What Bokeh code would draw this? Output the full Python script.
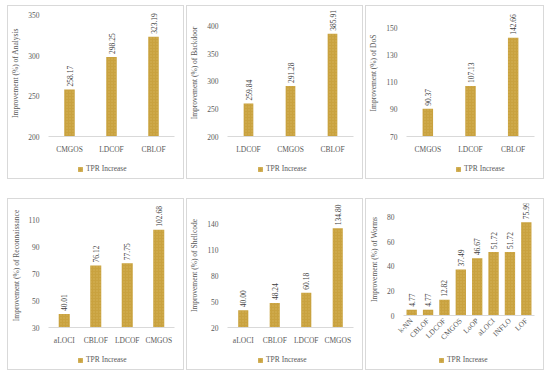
import math
from bokeh.plotting import figure
from bokeh.models import (Range1d, FactorRange, FixedTicker, ColumnDataSource, Legend,
                          LegendItem, Spacer)
from bokeh.layouts import row, column
from bokeh.embed import file_html
from bokeh.resources import INLINE
from bokeh.core.properties import value

# ---- data ----
analysis_methods = ["CMGOS", "LDCOF", "CBLOF"]
analysis_values = [258.17, 298.25, 323.19]
analysis_ticks = [200, 250, 300, 350]

backdoor_methods = ["LDCOF", "CMGOS", "CBLOF"]
backdoor_values = [259.84, 291.28, 385.91]
backdoor_ticks = [200, 250, 300, 350, 400]

dos_methods = ["CMGOS", "LDCOF", "CBLOF"]
dos_values = [90.37, 107.13, 142.66]
dos_ticks = [70, 90, 110, 130, 150]

recon_methods = ["aLOCI", "CBLOF", "LDCOF", "CMGOS"]
recon_values = [40.01, 76.12, 77.75, 102.68]
recon_ticks = [30, 50, 70, 90, 110]

shell_methods = ["aLOCI", "CBLOF", "LDCOF", "CMGOS"]
shell_values = [40.00, 48.24, 60.18, 134.80]
shell_ticks = [20, 50, 80, 110, 140]

worms_methods = ["k-NN", "CBLOF", "LDCOF", "CMGOS", "LoOP", "aLOCI", "INFLO", "LOF"]
worms_values = [4.77, 4.77, 12.82, 37.49, 46.67, 51.72, 51.72, 75.99]
worms_ticks = [0, 20, 40, 60, 80]

series_name = "TPR Increase"

BAR = "#C9A23F"
FONT = "Liberation Serif"
GRAY = "#595959"
BAR_STYLE = dict(fill_color=BAR, line_color=None, hatch_pattern="dot",
                 hatch_color="#E2C77A", hatch_alpha=0.45, hatch_scale=3)


def panel(cats, vals, ticks, ylabel, y_end, bar_w, height, top, bottom,
          leg_x, width=175, rotate=False):
    p = figure(width=width, height=height, x_range=FactorRange(*cats, range_padding=0),
               y_range=Range1d(ticks[0], y_end), output_backend="svg",
               toolbar_location=None, min_border_left=36, min_border_right=9,
               min_border_top=top, min_border_bottom=bottom)
    p.outline_line_color = None
    p.grid.grid_line_color = None
    src = ColumnDataSource(dict(x=cats, y=vals, t=[f"{v:.2f}" for v in vals]))
    p.vbar(x="x", top="y", bottom=ticks[0], width=bar_w, source=src, **BAR_STYLE)
    p.text(x="x", y="y", text="t", source=src, angle=math.pi / 2,
           text_align="left", text_baseline="middle", y_offset=-3,
           text_font=value(FONT), text_font_size="7.5px", text_color="#404040")
    p.yaxis.ticker = FixedTicker(ticks=ticks)
    p.yaxis.axis_line_color = None
    p.yaxis.major_tick_line_color = None
    p.yaxis.minor_tick_line_color = None
    p.yaxis.major_tick_out = 0
    p.yaxis.major_label_standoff = 9
    p.yaxis.axis_label = ylabel
    p.yaxis.axis_label_standoff = 5
    p.yaxis.axis_label_text_font = FONT
    p.yaxis.axis_label_text_font_style = "normal"
    p.yaxis.axis_label_text_font_size = "7.5px"
    p.yaxis.axis_label_text_color = GRAY
    for ax in (p.xaxis, p.yaxis):
        ax.major_label_text_font = FONT
        ax.major_label_text_font_size = "7.5px"
        ax.major_label_text_color = GRAY
    p.xaxis.axis_line_color = "#D9D9D9"
    p.xaxis.major_tick_line_color = None
    p.xaxis.major_tick_out = 0
    p.xaxis.major_label_standoff = 8
    if rotate:
        p.xaxis.major_label_orientation = math.pi / 4
        p.xaxis.major_label_standoff = 4

    # legend strip (separate small figure so the legend is not clipped)
    lf = figure(width=width, height=22, x_range=Range1d(0, 1), y_range=Range1d(0, 1),
                output_backend="svg", toolbar_location=None,
                x_axis_location=None, y_axis_location=None,
                min_border_left=36, min_border_right=9, min_border_top=0, min_border_bottom=0)
    lf.outline_line_color = None
    lf.grid.grid_line_color = None
    # zero-size proxy bar: only supplies the legend swatch
    lr = lf.vbar(x=[0], top=[0], bottom=[0], width=0, **BAR_STYLE)
    leg = Legend(items=[LegendItem(label=series_name, renderers=[lr])],
                 location=(leg_x - 36, 5), orientation="horizontal",
                 border_line_color=None, background_fill_alpha=0,
                 padding=0, margin=0, spacing=0, label_height=8,
                 glyph_width=6, glyph_height=6, label_standoff=3,
                 label_text_font=FONT, label_text_font_size="7.5px",
                 label_text_color=GRAY)
    lf.add_layout(leg)
    box = column(p, lf, spacing=0)
    box.styles = {"border": "1px solid #D9D9D9"}
    return box


p1 = panel(analysis_methods, analysis_values, analysis_ticks,
           "Improvement (%) of Analysis", 356.9, 0.25, 150, 3, 15, 65)
p2 = panel(backdoor_methods, backdoor_values, backdoor_ticks,
           "Improvement (%) of Backdoor", 429.6, 0.23, 150, 3, 15, 66)
p3 = panel(dos_methods, dos_values, dos_ticks,
           "Improvement (%) of DoS", 163.45, 0.245, 150, 3, 15, 85, width=177)
p4 = panel(recon_methods, recon_values, recon_ticks,
           "Improvement (%) of Reconnaissance", 122.1, 0.35, 148, 4, 15, 65)
p5 = panel(shell_methods, shell_values, shell_ticks,
           "Improvement (%) of Shellcode", 163.3, 0.32, 148, 4, 15, 66)
p6 = panel(worms_methods, worms_values, worms_ticks,
           "Improvement (%) of Worms", 91.2, 0.63, 148, 4, 30, 71, width=177, rotate=True)

grid = column(row(p1, p2, p3, spacing=2), row(p4, p5, p6, spacing=2), spacing=19)
layout = row(Spacer(width=7, height=10), column(Spacer(width=10, height=5), grid))

open("out.html", "w").write(file_html(layout, INLINE))
